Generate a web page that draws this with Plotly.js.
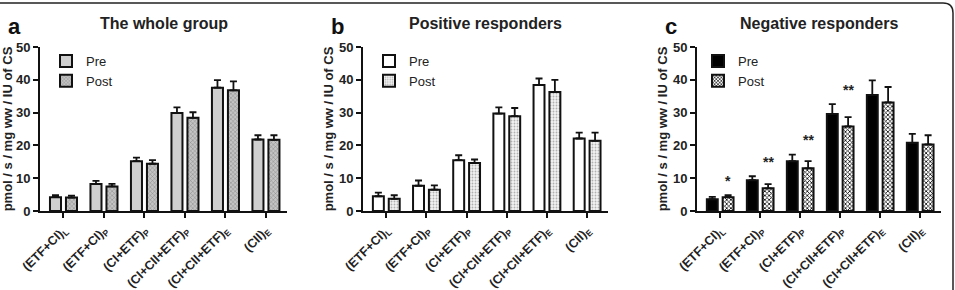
<!DOCTYPE html>
<html><head><meta charset="utf-8">
<script src="https://cdn.plot.ly/plotly-3.0.1.min.js"></script>
<style>html,body{margin:0;padding:0;background:#fff}#chart{width:955px;height:290px}</style>
</head><body><div id="chart"></div>
<script>
// Data
const categories = ['(ETF+CI)<sub>L</sub>', '(ETF+CI)<sub>P</sub>', '(CI+ETF)<sub>P</sub>', '(CI+CII+ETF)<sub>P</sub>', '(CI+CII+ETF)<sub>E</sub>', '(CII)<sub>E</sub>'];
const seriesNames = ['Pre', 'Post'];
const panelTitles = ['The whole group', 'Positive responders', 'Negative responders'];
const panelLetters = ['a', 'b', 'c'];
const yTitle = 'pmol / s / mg ww / IU of CS';

const wholePre = [4.2, 8.2, 15.2, 29.9, 37.6, 21.8];
const wholePreErr = [0.6, 1.0, 1.1, 1.7, 2.3, 1.3];
const wholePost = [4.1, 7.5, 14.4, 28.4, 36.8, 21.7];
const wholePostErr = [0.6, 0.8, 1.1, 1.7, 2.7, 1.4];

const posPre = [4.5, 7.7, 15.5, 29.7, 38.4, 22.1];
const posPreErr = [1.1, 1.6, 1.5, 1.9, 2.0, 1.8];
const posPost = [3.7, 6.5, 14.6, 28.9, 36.3, 21.4];
const posPostErr = [1.1, 1.3, 1.1, 2.5, 3.7, 2.5];

const negPre = [3.6, 9.4, 15.2, 29.6, 35.4, 20.8];
const negPreErr = [0.7, 1.2, 2.0, 3.0, 4.4, 2.7];
const negPost = [4.2, 6.9, 13.0, 25.8, 33.1, 20.3];
const negPostErr = [0.6, 1.3, 2.2, 2.8, 4.7, 2.8];
const negSig = ['*', '**', '**', '**', '', ''];

// Styles
const W = 955, H = 290;
const FONT = 'Liberation Sans, Arial, sans-serif';
const INK = '#111';
const xDom = [[40, 287], [363, 608], [697, 941]];
const yDom = [1 - 211 / H, 1 - 47 / H];

const styles = [
  { pre: { color: '#cfcfcf' }, post: { color: '#b4b4b4', pattern: { shape: 'x', fgcolor: '#7a7a7a', bgcolor: '#c4c4c4', size: 3, solidity: 0.25 } } },
  { pre: { color: '#ffffff' }, post: { color: '#ececec', pattern: { shape: '.', fgcolor: '#b0b0b0', bgcolor: '#f2f2f2', size: 3, solidity: 0.3 } } },
  { pre: { color: '#000000' }, post: { color: '#888888', pattern: { shape: 'x', fgcolor: '#000000', bgcolor: '#ffffff', size: 3, solidity: 0.45 } } }
];
const panels = [
  [wholePre, wholePreErr, wholePost, wholePostErr],
  [posPre, posPreErr, posPost, posPostErr],
  [negPre, negPreErr, negPost, negPostErr]
];

const traces = [];
panels.forEach((p, i) => {
  const sfx = i === 0 ? '' : String(i + 1);
  [0, 1].forEach(k => {
    const vals = p[k * 2], errs = p[k * 2 + 1];
    const st = k === 0 ? styles[i].pre : styles[i].post;
    const marker = { color: st.color, line: { color: INK, width: 2 } };
    if (st.pattern) marker.pattern = st.pattern;
    traces.push({
      type: 'bar', name: seriesNames[k], x: categories, y: vals,
      xaxis: 'x' + sfx, yaxis: 'y' + sfx, legend: 'legend' + sfx,
      marker: marker,
      error_y: { type: 'data', array: errs, arrayminus: errs.map(() => 0), symmetric: false, color: INK, thickness: 1.8, width: 3.5 },
      hoverinfo: 'skip'
    });
  });
});

const layout = {
  width: W, height: H, margin: { l: 0, r: 0, t: 0, b: 0 },
  paper_bgcolor: '#fff', plot_bgcolor: 'rgba(0,0,0,0)',
  barmode: 'group', bargap: 0.21, bargroupgap: 0.31,
  font: { family: FONT, color: '#222' },
  showlegend: true, annotations: [], shapes: []
};

const legendX = [46, 369, 698];
xDom.forEach((d, i) => {
  const sfx = i === 0 ? '' : String(i + 1);
  layout['xaxis' + sfx] = {
    domain: [d[0] / W, d[1] / W], anchor: 'y' + sfx, type: 'category', range: [-0.58, 5.52],
    showline: true, linecolor: INK, linewidth: 2, ticks: 'outside', ticklen: 5, tickwidth: 2, tickcolor: INK,
    tickangle: -45, tickfont: { family: FONT, size: 12.5, weight: 'bold', color: '#222' },
    showgrid: false, zeroline: false, fixedrange: true
  };
  layout['yaxis' + sfx] = {
    domain: yDom, anchor: 'x' + sfx, range: [0, 50], dtick: 10, tick0: 0,
    showline: true, linecolor: INK, linewidth: 2, ticks: 'outside', ticklen: 5, tickwidth: 2, tickcolor: INK,
    tickfont: { family: FONT, size: 13, weight: 'bold', color: '#222' },
    showgrid: false, zeroline: false, fixedrange: true,
    title: { text: yTitle, font: { family: FONT, size: 13, weight: 'bold', color: '#222' }, standoff: 2 }
  };
  layout['legend' + sfx] = {
    x: legendX[i] / W, y: 1 - 46 / H, xanchor: 'left', yanchor: 'top',
    bgcolor: 'rgba(0,0,0,0)', borderwidth: 0, font: { family: FONT, size: 13, color: '#222' },
    tracegroupgap: 0, itemwidth: 30, traceorder: 'normal'
  };
  layout.annotations.push({
    xref: 'paper', yref: 'paper', x: (d[0] + d[1]) / 2 / W, y: 1 - 23 / H, text: panelTitles[i],
    showarrow: false, xanchor: 'center', yanchor: 'middle',
    font: { family: FONT, size: 16, weight: 'bold', color: '#222' }
  });
  layout.annotations.push({
    xref: 'paper', yref: 'paper', x: (d[0] - 26) / W, y: 1 - 27 / H, text: panelLetters[i],
    showarrow: false, xanchor: 'center', yanchor: 'middle',
    font: { family: FONT, size: 22, weight: 'bold', color: '#111' }
  });
});

negSig.forEach((s, j) => {
  if (!s) return;
  const top = Math.max(negPre[j] + negPreErr[j], negPost[j] + negPostErr[j]);
  layout.annotations.push({
    xref: 'x3', yref: 'y3', x: j + 0.2, y: top + 4.3, text: s, showarrow: false,
    xanchor: 'center', yanchor: 'middle', font: { family: FONT, size: 14, weight: 'bold', color: '#222' }
  });
});

// figure frame: top rule with rounded right corner
const r = 10 / W, ry = 10 / H;
layout.shapes.push({
  type: 'path', xref: 'paper', yref: 'paper', layer: 'above',
  path: `M 0 ${1 - 3 / H} L ${1 - 2 / W - r} ${1 - 3 / H} Q ${1 - 2 / W} ${1 - 3 / H} ${1 - 2 / W} ${1 - 3 / H - ry} L ${1 - 2 / W} 0`,
  line: { color: '#222', width: 1.5 }
});

Plotly.newPlot('chart', traces, layout, { staticPlot: true, displayModeBar: false });
</script></body></html>
